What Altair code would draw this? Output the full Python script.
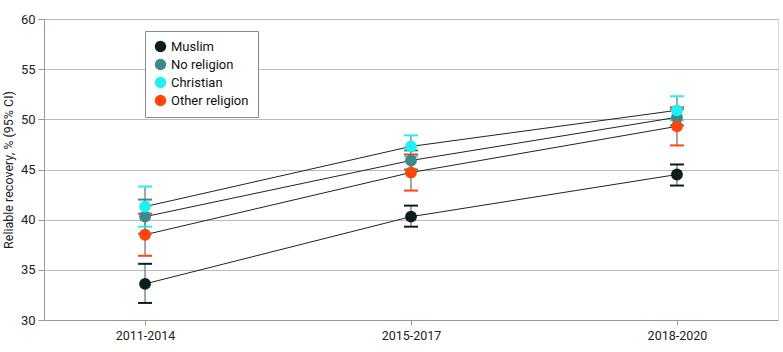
import altair as alt
import pandas as pd

periods = ["2011-2014", "2015-2017", "2018-2020"]
groups = ["Muslim", "No religion", "Christian", "Other religion"]
colors = ["#0b1d1e", "#3b8b8b", "#1ff0f7", "#ff4508"]

est = {
    "Muslim": [33.6, 40.3, 44.5],
    "No religion": [40.3, 45.9, 50.2],
    "Christian": [41.3, 47.3, 50.9],
    "Other religion": [38.5, 44.7, 49.3],
}
lo = {
    "Muslim": [31.7, 39.3, 43.4],
    "No religion": [38.6, 45.0, 49.4],
    "Christian": [39.3, 46.3, 49.9],
    "Other religion": [36.4, 42.9, 47.4],
}
hi = {
    "Muslim": [35.6, 41.4, 45.5],
    "No religion": [42.0, 46.9, 51.0],
    "Christian": [43.3, 48.4, 52.3],
    "Other religion": [40.6, 46.5, 51.2],
}

rows = []
for g in groups:
    for i, p in enumerate(periods):
        rows.append({"period": p, "group": g, "est": est[g][i], "lo": lo[g][i], "hi": hi[g][i]})
df = pd.DataFrame(rows)

FONT = "Roboto"
x = alt.X("period:N", sort=periods, title=None,
          scale=alt.Scale(type="point", padding=0.38),
          axis=alt.Axis(labelAngle=0, labelFontSize=12.5, labelColor="#222", domainColor="#999",
                        tickColor="#999", tickSize=5, grid=False, labelPadding=4))
yscale = alt.Scale(domain=[30, 60], nice=False, zero=False)
color = alt.Color("group:N", sort=groups, scale=alt.Scale(domain=groups, range=colors),
                  legend=alt.Legend(title=None, orient="none", legendX=101, legendY=12,
                                    symbolType="circle", symbolSize=130, symbolStrokeWidth=0,
                                    labelFontSize=13, labelFont=FONT, labelColor="#111",
                                    strokeColor="#888", padding=9, rowPadding=4,
                                    fillColor="white", symbolOpacity=1))

base = alt.Chart(df)

lines = base.mark_line(color="#222", strokeWidth=1).encode(
    x=x,
    y=alt.Y("est:Q", scale=yscale, title="Reliable recovery, % (95% CI)",
            axis=alt.Axis(values=[30, 35, 40, 45, 50, 55, 60], labelFontSize=13, labelColor="#222",
                          titleFontSize=12.5, titleFontWeight="normal", titleColor="#222",
                          domainColor="#999", tickColor="#999", tickSize=6, gridColor="#bbb",
                          titlePadding=5, labelPadding=3)),
    detail="group:N",
)
whisk = base.mark_rule(color="#888", strokeWidth=1.5).encode(
    x=x, y=alt.Y("lo:Q", scale=yscale), y2="hi:Q")
caps_lo = base.mark_tick(thickness=2, size=14, opacity=1).encode(
    x=x, y=alt.Y("lo:Q", scale=yscale), color=color)
caps_hi = base.mark_tick(thickness=2, size=14, opacity=1).encode(
    x=x, y=alt.Y("hi:Q", scale=yscale), color=color)
pts = base.mark_circle(size=140, opacity=1).encode(
    x=x, y=alt.Y("est:Q", scale=yscale), color=color)

chart = alt.layer(lines, whisk, caps_lo, caps_hi, pts).properties(
    width=734, height=301,
    autosize=alt.AutoSizeParams(type="none"),
    padding={"left": 44, "top": 19, "right": 5, "bottom": 32},
).configure_view(stroke=None).configure(font=FONT)

chart.save("out.html", embed_options={"renderer": "svg", "actions": False})
